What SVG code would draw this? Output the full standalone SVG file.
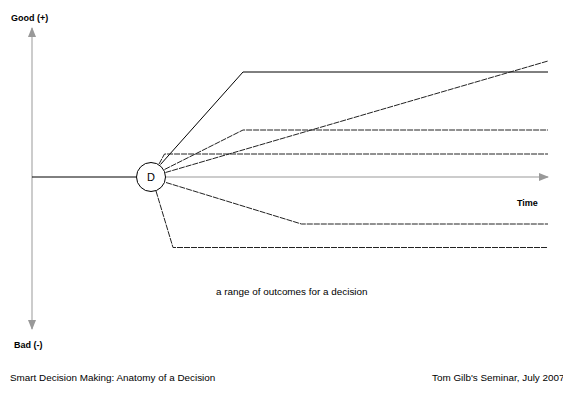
<svg xmlns="http://www.w3.org/2000/svg" width="563" height="398" viewBox="0 0 563 398">
<style>
text{font-family:"Liberation Sans",Arial,sans-serif;fill:#000}
.lbl{font-size:9px;font-weight:bold}
.ft{font-size:9.9px}
.axis{stroke:#999;stroke-width:1;fill:none}
.sol{stroke:#000;stroke-width:1;fill:none}
.dsh{stroke:#222;stroke-width:1;fill:none;stroke-dasharray:6 1}
</style>
<defs>
<marker id="ah" markerWidth="10" markerHeight="8" refX="9" refY="4" orient="auto" markerUnits="userSpaceOnUse">
<path d="M0,0 L10,4 L0,8 Z" fill="#999"/>
</marker>
</defs>
<rect width="563" height="398" fill="#fff"/>
<g id="axes">
<line class="axis" x1="32" y1="177" x2="32" y2="28" marker-end="url(#ah)"/>
<line class="axis" x1="32" y1="177" x2="32" y2="329" marker-end="url(#ah)"/>
<line class="axis" x1="165" y1="177" x2="548" y2="177" marker-end="url(#ah)"/>
</g>
<g id="connectors">
<line class="sol" x1="32" y1="177" x2="136" y2="177"/>
<polyline class="sol" points="160.5,164.5 243,72 548,72"/>
<line class="dsh" x1="165.5" y1="172.5" x2="548" y2="61"/>
<polyline class="dsh" points="164.5,169.5 243,130 548,130"/>
<polyline class="dsh" points="159,164 164.5,154 548,154"/>
<polyline class="dsh" points="166,182.5 301.5,224 548,224"/>
<polyline class="dsh" points="156,191 173,247.5 548,247.5"/>
</g>
<g id="node-D">
<circle cx="151" cy="177" r="14.5" fill="#fff" stroke="#000" stroke-width="1"/>
<text x="151" y="181" font-size="11" text-anchor="middle">D</text>
</g>
<g id="labels">
<text class="lbl" x="11" y="20.5">Good (+)</text>
<text class="lbl" x="14" y="348">Bad (-)</text>
<text class="lbl" x="517" y="205.5">Time</text>
<text x="216" y="295" font-size="9.9">a range of outcomes for a decision</text>
<text class="ft" x="10" y="381">Smart Decision Making: Anatomy of a Decision</text>
<text class="ft" x="432" y="381">Tom Gilb's Seminar, July 2007</text>
</g>
</svg>
